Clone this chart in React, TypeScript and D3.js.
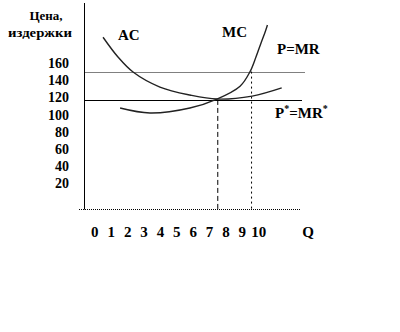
import React from "react";
import * as d3 from "d3";

// Quantity tick labels
const qTicks = [0, 1, 2, 3, 4, 5, 6, 7, 8, 9, 10];
// Price tick labels
const pTicks = [20, 40, 60, 80, 100, 120, 140, 160];

// Average cost curve (Q, price)
const acQ = [0.5, 1.41, 2.33, 3.97, 5.8, 7.45, 9.6, 11.4];
const acP = [190, 167, 149.5, 132, 122.7, 118, 121.5, 131];

// Marginal cost curve (Q, price)
const mcQ = [1.54, 3.36, 5.8, 7.45, 8.86, 9.47, 9.83, 10.14, 10.39, 10.53];
const mcP = [107.6, 101.8, 107.6, 118, 133, 150, 167, 183.3, 196.1, 204.3];

// Price levels
const priceP = 150; // P = MR
const priceStar = 117; // P* = MR*
const qAtStar = 7.5;
const qAtP = 9.5;

const W = 400;
const H = 332;

const serif = "'Liberation Serif', 'Times New Roman', Times, serif";

export default function App() {
  const x = d3.scaleLinear().domain([0, 10]).range([94.85, 258.75]);
  const y = d3.scaleLinear().domain([-10, 160]).range([209, 63]);

  const line = d3
    .line<[number, number]>()
    .x((d) => x(d[0]))
    .y((d) => y(d[1]))
    .curve(d3.curveCatmullRom.alpha(0.5));

  const acData: [number, number][] = acQ.map((q, i) => [q, acP[i]]);
  const mcData: [number, number][] = mcQ.map((q, i) => [q, mcP[i]]);

  const axisX = 84.5;
  const axisBottom = y(-10) + 0.5;
  const ts: React.CSSProperties = { fontFamily: serif, fontWeight: 700 };

  return (
    <svg
      width={W}
      height={H}
      style={{ position: "absolute", left: 0, top: 0, background: "#fff" }}
    >
      {/* axes */}
      <line x1={axisX} x2={axisX} y1={3} y2={axisBottom} stroke="#000" strokeWidth={1} />
      <line x1={79} x2={300} y1={axisBottom} y2={axisBottom} stroke="#000" strokeWidth={1} strokeDasharray="1,1" />

      {/* price lines */}
      <line x1={axisX} x2={305} y1={Math.round(y(priceP)) + 0.5} y2={Math.round(y(priceP)) + 0.5} stroke="#000" strokeWidth={1} strokeDasharray="1,1" />
      <line x1={axisX} x2={302} y1={Math.round(y(priceStar)) + 0.5} y2={Math.round(y(priceStar)) + 0.5} stroke="#000" strokeWidth={1} />

      {/* vertical guides */}
      <line x1={x(qAtStar)} x2={x(qAtStar)} y1={y(priceStar)} y2={axisBottom} stroke="#000" strokeWidth={1} strokeDasharray="5,3" />
      <line x1={x(qAtP) + 1} x2={x(qAtP) + 1} y1={y(priceP)} y2={axisBottom} stroke="#000" strokeWidth={1} strokeDasharray="2,3" />

      {/* curves */}
      <path d={line(acData) || ""} fill="none" stroke="#222" strokeWidth={1.4} />
      <path d={line(mcData) || ""} fill="none" stroke="#222" strokeWidth={1.4} />

      {/* y title */}
      <text x={46} y={20} fontSize={13} textAnchor="middle" style={ts}>Цена,</text>
      <text x={40} y={37} fontSize={12} textAnchor="middle" textLength={64} lengthAdjust="spacingAndGlyphs" style={ts}>издержки</text>

      {/* y tick labels */}
      {pTicks.map((p) => (
        <text key={p} x={69} y={y(p) + 5} fontSize={14} textAnchor="end" style={ts}>
          {p}
        </text>
      ))}

      {/* x tick labels */}
      {qTicks.map((q) => (
        <text key={q} x={x(q)} y={237} fontSize={15} textAnchor="middle" style={ts}>
          {q}
        </text>
      ))}
      <text x={308} y={237} fontSize={15} textAnchor="middle" style={ts}>Q</text>

      {/* curve labels */}
      <text x={118} y={40} fontSize={15} style={ts}>AC</text>
      <text x={222} y={37} fontSize={15} style={ts}>MC</text>
      <text x={277} y={54} fontSize={15} style={ts}>P=MR</text>
      <text x={275} y={118} fontSize={15} style={ts}>
        P<tspan fontSize={10} dy={-6}>*</tspan>
        <tspan dy={6}>=MR</tspan>
        <tspan fontSize={10} dy={-6}>*</tspan>
      </text>
    </svg>
  );
}
